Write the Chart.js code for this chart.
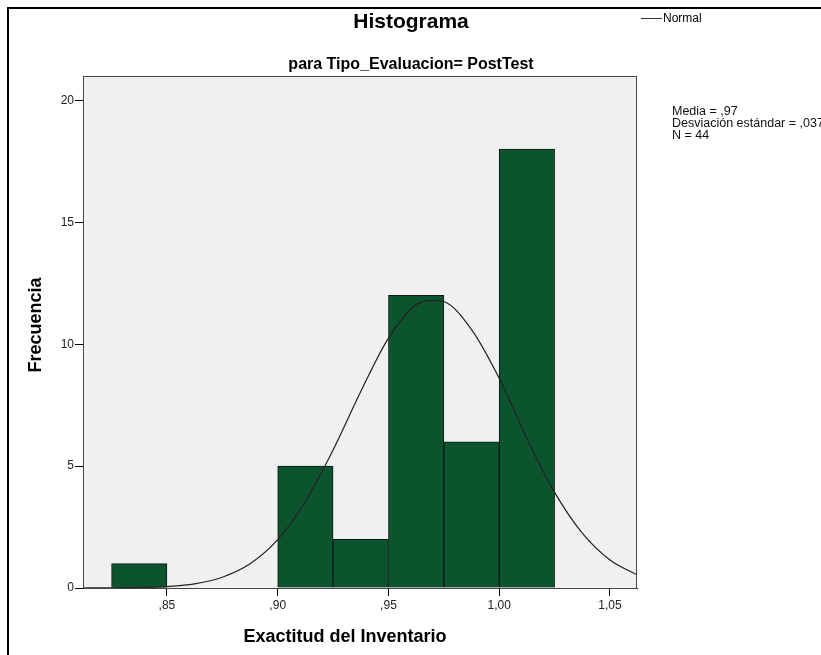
<!DOCTYPE html>
<html>
<head>
<meta charset="utf-8">
<script src="https://cdn.jsdelivr.net/npm/chart.js@4.4.0/dist/chart.umd.min.js"></script>
<style>
  html, body { margin: 0; padding: 0; background: #fff; }
  #wrap { position: relative; width: 821px; height: 655px; }
</style>
</head>
<body>
<div id="wrap"><canvas id="chart" width="821" height="655"></canvas></div>
<script>
// histogram bins (centre of each bin) and counts
const binCenters = [0.8375, 0.9125, 0.9375, 0.9625, 0.9875, 1.0125];
const binCounts = [1, 5, 2, 12, 6, 18];

// normal curve
const curveX = [0.8121, 0.825, 0.8375, 0.85, 0.8625, 0.875, 0.8875, 0.90, 0.9125, 0.925, 0.9375, 0.95,
  0.9625, 0.97, 0.975, 0.9875, 1.00, 1.0125, 1.025, 1.0375, 1.05, 1.0622];
const curveY = [0, 0.01, 0.02, 0.06, 0.17, 0.44, 0.99, 1.98, 3.55, 5.66, 8.06, 10.25,
  11.62, 11.8, 11.75, 10.6, 8.6, 6.13, 3.92, 2.25, 1.15, 0.54];

const xTicks = [0.85, 0.90, 0.95, 1.00, 1.05];
const yTicks = [0, 5, 10, 15, 20];

const statsLines = ["Media = ,97", "Desviación estándar = ,037", "N = 44"];

const font = '"Liberation Sans", Arial, sans-serif';

function fmtX(v) {
  return v.toFixed(2).replace(".", ",").replace(/^0/, "");
}

const decorations = {
  id: "decorations",
  beforeDraw(chart) {
    const { ctx, chartArea: a } = chart;
    ctx.save();
    ctx.fillStyle = "#f0f0f0";
    ctx.fillRect(a.left, a.top, a.right - a.left, a.bottom - a.top);
    ctx.restore();
  },
  afterDraw(chart) {
    const { ctx, chartArea: a } = chart;
    ctx.save();
    // plot frame
    ctx.strokeStyle = "#444";
    ctx.lineWidth = 1;
    ctx.strokeRect(a.left + 0.5, a.top + 0.5, a.right - a.left - 1, a.bottom - a.top);

    // outer frame (top and left only)
    ctx.strokeStyle = "#000";
    ctx.lineWidth = 2;
    ctx.beginPath();
    ctx.moveTo(8, 655);
    ctx.lineTo(8, 8);
    ctx.lineTo(821, 8);
    ctx.stroke();

    ctx.fillStyle = "#000";
    ctx.textAlign = "center";
    ctx.textBaseline = "alphabetic";
    ctx.font = "bold 21px " + font;
    ctx.fillText("Histograma", 411, 28);
    ctx.font = "bold 16px " + font;
    ctx.fillText("para Tipo_Evaluacion= PostTest", 411, 69);
    ctx.textBaseline = "middle";
    ctx.font = "bold 18px " + font;
    ctx.fillText("Exactitud del Inventario", 345, 637);

    ctx.save();
    ctx.translate(36, 325);
    ctx.rotate(-Math.PI / 2);
    ctx.font = "bold 18px " + font;
    ctx.fillText("Frecuencia", 0, 0);
    ctx.restore();

    // legend
    ctx.strokeStyle = "#333";
    ctx.lineWidth = 1;
    ctx.beginPath();
    ctx.moveTo(641, 18.5);
    ctx.lineTo(662, 18.5);
    ctx.stroke();
    ctx.textAlign = "left";
    ctx.font = "12px " + font;
    ctx.fillText("Normal", 663, 19);

    // stats
    ctx.font = "12.5px " + font;
    ctx.fillStyle = "#111";
    statsLines.forEach((t, i) => ctx.fillText(t, 672, 112 + i * 12));
    ctx.restore();
  }
};

new Chart(document.getElementById("chart"), {
  data: {
    datasets: [
      {
        type: "line",
        label: "Normal",
        data: curveX.map((x, i) => ({ x, y: curveY[i] })),
        borderColor: "#222",
        borderWidth: 1.2,
        pointRadius: 0,
        cubicInterpolationMode: "monotone",
        fill: false,
        order: 0
      },
      {
        type: "bar",
        label: "Frecuencia",
        data: binCenters.map((x, i) => ({ x, y: binCounts[i] })),
        backgroundColor: "#0b542e",
        borderColor: "#0a1a10",
        borderWidth: 1,
        barPercentage: 1,
        categoryPercentage: 1,
        grouped: false,
        order: 1
      }
    ]
  },
  options: {
    responsive: false,
    animation: false,
    layout: { padding: { left: 0, top: 76, right: 184, bottom: 0 } },
    plugins: { legend: { display: false }, title: { display: false }, tooltip: { enabled: false } },
    scales: {
      x: {
        type: "linear",
        offset: false,
        min: 0.8121,
        max: 1.0622,
        afterBuildTicks(scale) { scale.ticks = xTicks.map(v => ({ value: v })); },
        afterFit(scale) { scale.height = 67; },
        grid: { offset: false, drawOnChartArea: false, tickLength: 8, color: "#000", tickWidth: 1 },
        border: { color: "#000", width: 1 },
        ticks: {
          padding: 2,
          color: "#222",
          font: { family: font, size: 12 },
          callback: v => fmtX(v)
        }
      },
      y: {
        min: 0,
        max: 21,
        afterBuildTicks(scale) { scale.ticks = yTicks.map(v => ({ value: v })); },
        afterFit(scale) { scale.width = 83; },
        grid: { drawOnChartArea: false, tickLength: 8, color: "#000", tickWidth: 1 },
        border: { color: "#000", width: 1 },
        ticks: {
          padding: 1,
          color: "#222",
          font: { family: font, size: 12 }
        }
      }
    }
  },
  plugins: [decorations]
});
</script>
</body>
</html>
